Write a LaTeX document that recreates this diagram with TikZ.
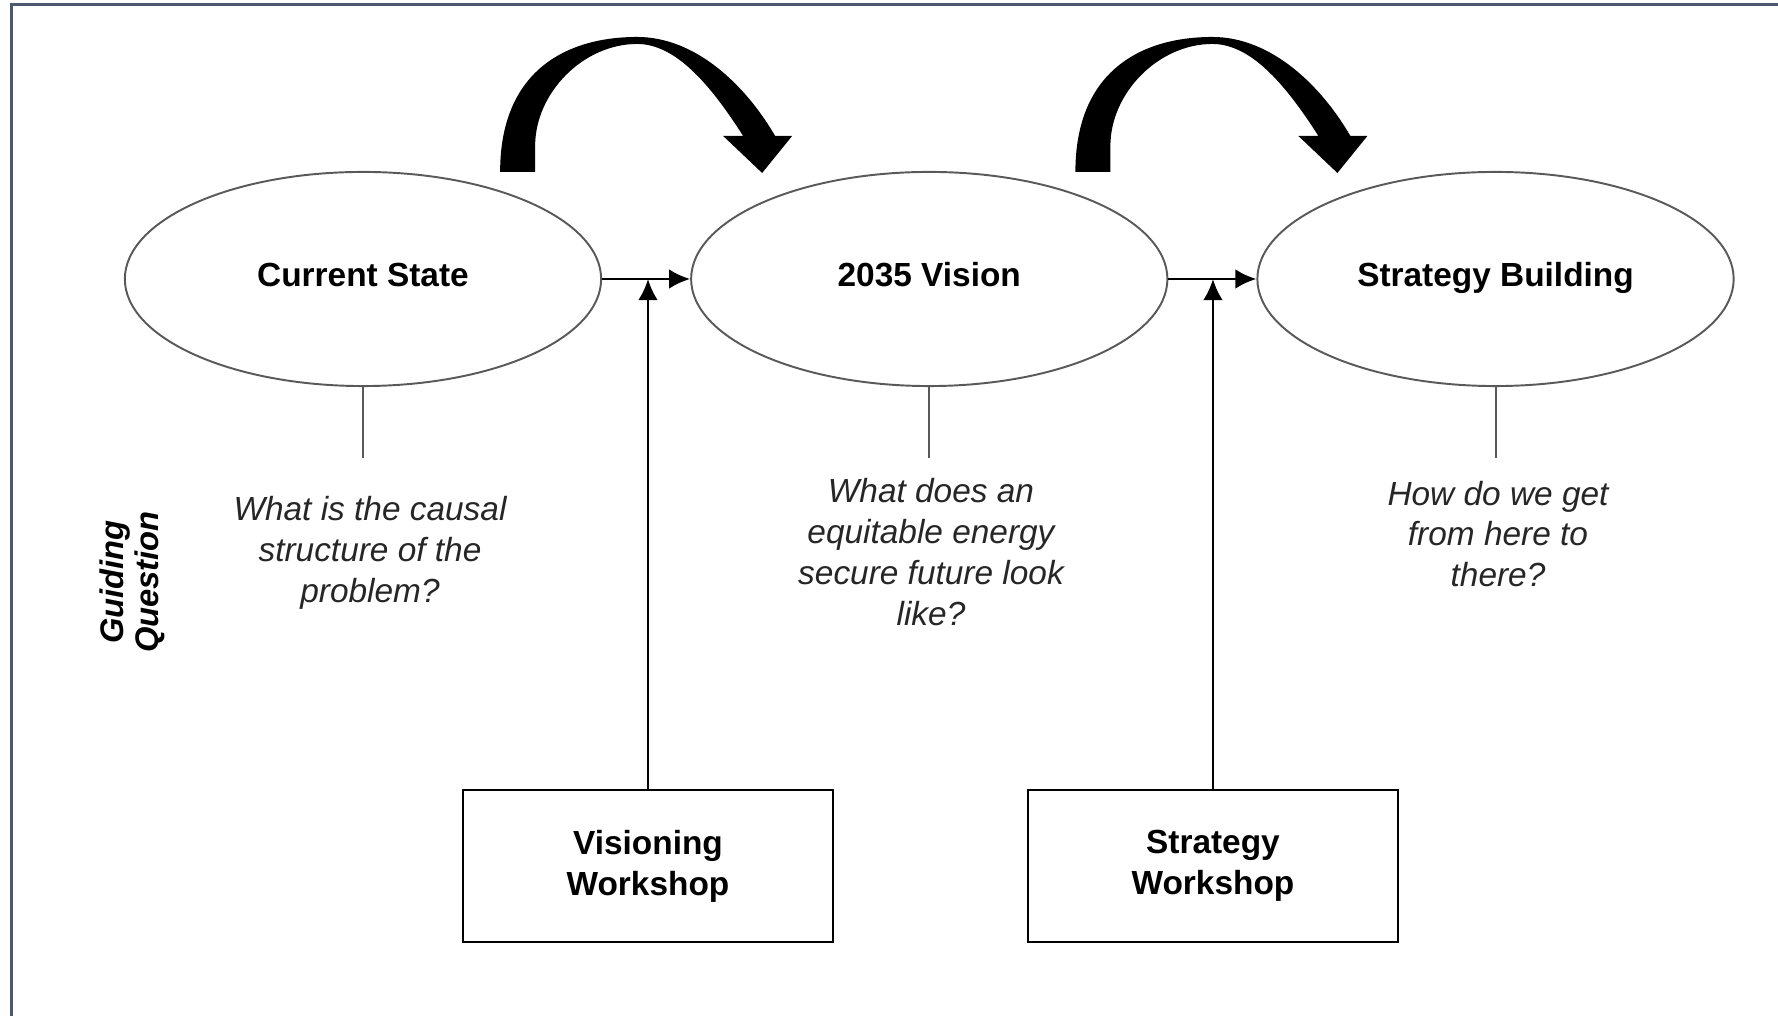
\documentclass[tikz,border=0pt]{standalone}
\usepackage{fontspec}
\setmainfont{Liberation Sans}
\usepackage{tikz}
\usetikzlibrary{positioning,calc,shapes.geometric,arrows.meta}
\definecolor{frame}{HTML}{4B5A70}

\begin{document}
\begin{tikzpicture}[x=0.01cm, y=-0.01cm,
	flow/.style={-{Latex[length=6pt,width=5.6pt]}, line width=0.8pt},
	question/.style={align=center, text=black!85, font=\fontsize{9.5}{11.6}\selectfont\itshape},
	hop/.pic={
		\fill (-146,1) .. controls (-146,-100) and (-80,-134) .. (-9,-134)
			.. controls (50,-134) and (100,-85) .. (129,-35) -- (146,-35) -- (116,2) -- (77,-35) -- (97,-35)
			.. controls (62,-90) and (28,-127) .. (-9,-127)
			.. controls (-63,-127) and (-111,-78) .. (-111,-25) -- (-111,1) -- cycle;
	}]
	\useasboundingbox (0,0) rectangle (1778,1016);
	\draw[frame, line width=0.65pt] (11.5,1016) -- (11.5,4.5) -- (1778,4.5);

	% the three stages
	\begin{scope}[every node/.style={draw=black!65, ellipse, line width=0.55pt, minimum width=4.76cm, minimum height=2.14cm, text height=0.75em, text depth=0.3em, font=\fontsize{9.5}{11.6}\selectfont\bfseries}]
	    \node (cur) at (363,279) {Current State};
	    \node[right = 0.88cm of cur] (vis) {2035 Vision};
	    \node[right = 0.88cm of vis] (strat) {Strategy Building};
	\end{scope}

	% workshops
	\begin{scope}[every node/.style={draw, line width=0.75pt, align=center, minimum width=3.7cm, minimum height=1.52cm, font=\fontsize{9.5}{11.6}\selectfont\bfseries}]
	    \node (vws) at (648,866) {Visioning\\Workshop};
	    \node[right = 1.92cm of vws] (sws) {Strategy\\Workshop};
	\end{scope}

	\path [flow] (cur) edge (vis);
	\path [flow] (vis) edge (strat);
	\draw [flow] (vws) -- (vws |- cur.east);
	\draw [flow] (sws) -- (sws |- vis.east);

	\pic at ($(cur.north)!0.5!(vis.north)$) {hop};
	\pic at ($(vis.north)!0.5!(strat.north)+(9,0)$) {hop};

	% guiding questions
	\draw[black!65, line width=0.55pt] (cur.south) -- ++(0,71);
	\draw[black!65, line width=0.55pt] (vis.south) -- ++(0,71);
	\draw[black!65, line width=0.55pt] (strat.south) -- ++(0,71);
	\node[question] (q1) at (370,553) {What is the causal\\structure of the\\problem?};
	\node[question] (q2) at (931,552) {What does an\\equitable energy\\secure future look\\like?};
	\node[question] (q3) at (1498,534) {How do we get\\from here to\\there?};
	\node[rotate=90, align=center, font=\fontsize{9.3}{10}\selectfont\bfseries\itshape] (guide) at (132,582) {Guiding\\Question};

\end{tikzpicture}
\end{document}
